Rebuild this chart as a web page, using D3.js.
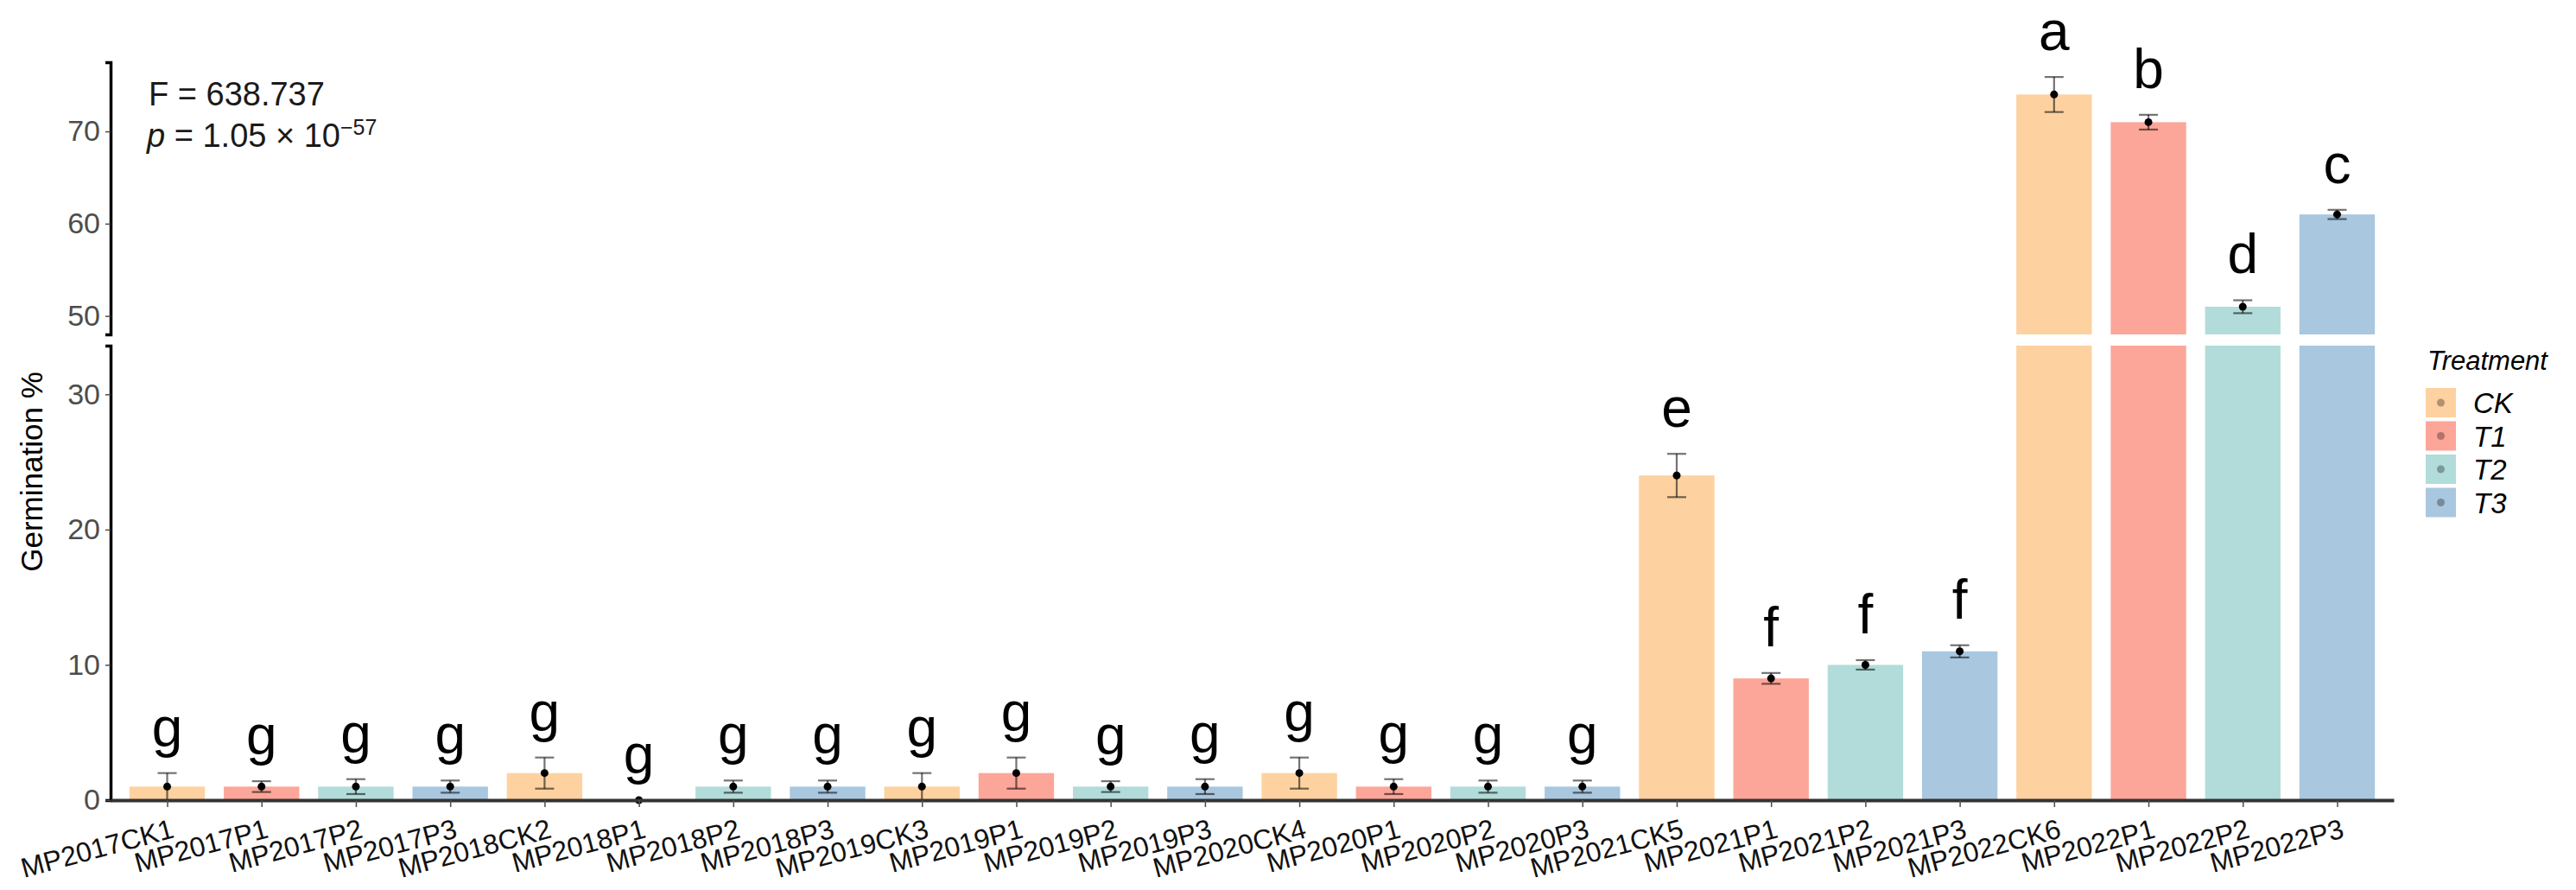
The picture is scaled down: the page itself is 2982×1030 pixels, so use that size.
<!DOCTYPE html>
<html>
<head>
<meta charset="utf-8">
<script src="https://d3js.org/d3.v7.min.js"></script>
<style>
  body { margin: 0; background: #fff; }
  svg { display: block; font-family: "Liberation Sans", Arial, sans-serif; }
</style>
</head>
<body>
<svg id="chart"></svg>
<script>
// data
const categories = [
  "MP2017CK1", "MP2017P1", "MP2017P2", "MP2017P3",
  "MP2018CK2", "MP2018P1", "MP2018P2", "MP2018P3",
  "MP2019CK3", "MP2019P1", "MP2019P2", "MP2019P3",
  "MP2020CK4", "MP2020P1", "MP2020P2", "MP2020P3",
  "MP2021CK5", "MP2021P1", "MP2021P2", "MP2021P3",
  "MP2022CK6", "MP2022P1", "MP2022P2", "MP2022P3"
];
const treatment = [
  "CK", "T1", "T2", "T3", "CK", "T1", "T2", "T3",
  "CK", "T1", "T2", "T3", "CK", "T1", "T2", "T3",
  "CK", "T1", "T2", "T3", "CK", "T1", "T2", "T3"
];
const means = [1, 1, 1, 1, 2, 0, 1, 1, 1, 2, 1, 1, 2, 1, 1, 1, 24, 9, 10, 11, 74, 71, 51, 61];
const sds = [1, 0.4, 0.55, 0.45, 1.15, 0, 0.45, 0.45, 1, 1.15, 0.4, 0.55, 1.15, 0.55, 0.45, 0.45,
             1.6, 0.4, 0.35, 0.45, 1.9, 0.8, 0.7, 0.5];
const letters = ["g", "g", "g", "g", "g", "g", "g", "g", "g", "g", "g", "g",
                 "g", "g", "g", "g", "e", "f", "f", "f", "a", "b", "d", "c"];
const groups = ["CK", "T1", "T2", "T3"];
const groupColors = ["#FDD2A0", "#FCA699", "#B2DCD9", "#A9C7DF"];
const lowTicks = [0, 10, 20, 30];
const highTicks = [50, 60, 70];
const lowDomain = [0, 33.6];
const highDomain = [48, 77.5];

document.addEventListener("DOMContentLoaded", function() {
  const width = 2982;
  const height = 1030;
  const left = 128, right = 2771;
  const baseY = 926;

  const data = categories.map((c, i) => ({
    name: c, group: treatment[i], mean: means[i], sd: sds[i], letter: letters[i]
  }));

  const svg = d3.select("#chart")
                .attr("width", width)
                .attr("height", height);

  // scales
  const x = d3.scalePoint()
              .domain(categories)
              .range([left, right])
              .padding(0.6);
  const barW = x.step() * 0.8;

  const yLow = d3.scaleLinear().domain(lowDomain).range([baseY, 400]);
  const yHigh = d3.scaleLinear().domain(highDomain).range([387, 72]);
  const yPix = v => v > 40 ? yHigh(v) : yLow(Math.max(0, v));

  const color = d3.scaleOrdinal().domain(groups).range(groupColors);

  // bars (split over the axis break)
  const bars = svg.append("g");
  data.forEach(d => {
    if (d.mean <= lowDomain[1]) {
      bars.append("rect")
          .attr("x", x(d.name) - barW / 2)
          .attr("y", yLow(d.mean))
          .attr("width", barW)
          .attr("height", yLow(0) - yLow(d.mean))
          .attr("fill", color(d.group));
    } else {
      bars.append("rect")
          .attr("x", x(d.name) - barW / 2)
          .attr("y", yLow(lowDomain[1]))
          .attr("width", barW)
          .attr("height", yLow(0) - yLow(lowDomain[1]))
          .attr("fill", color(d.group));
      bars.append("rect")
          .attr("x", x(d.name) - barW / 2)
          .attr("y", yHigh(d.mean))
          .attr("width", barW)
          .attr("height", yHigh(highDomain[0]) - yHigh(d.mean))
          .attr("fill", color(d.group));
    }
  });

  // error bars
  const err = svg.append("g")
                 .attr("stroke", "rgba(0,0,0,0.55)")
                 .attr("stroke-width", 2.2);
  data.filter(d => d.sd > 0).forEach(d => {
    const cx = x(d.name);
    const top = yPix(d.mean + d.sd);
    const bot = yPix(d.mean - d.sd);
    err.append("line").attr("x1", cx).attr("x2", cx).attr("y1", top).attr("y2", bot);
    err.append("line").attr("x1", cx - 11).attr("x2", cx + 11).attr("y1", top).attr("y2", top);
    if (d.mean - d.sd > 0)
      err.append("line").attr("x1", cx - 11).attr("x2", cx + 11).attr("y1", bot).attr("y2", bot);
  });

  // mean points
  svg.append("g")
     .selectAll("circle")
     .data(data)
     .enter()
     .append("circle")
       .attr("cx", d => x(d.name))
       .attr("cy", d => yPix(d.mean))
       .attr("r", 4.5)
       .attr("fill", "#000");

  // significance letters
  svg.append("g")
     .selectAll("text")
     .data(data)
     .enter()
     .append("text")
       .attr("x", d => x(d.name))
       .attr("y", d => yPix(d.mean + d.sd) - 31)
       .attr("text-anchor", "middle")
       .style("font-size", "64px")
       .attr("fill", "#000")
       .text(d => d.letter);

  // y axes
  const axLow = svg.append("g")
     .attr("transform", `translate(${left},0)`)
     .call(d3.axisLeft(yLow).tickValues(lowTicks).tickSize(6).tickPadding(6));
  const axHigh = svg.append("g")
     .attr("transform", `translate(${left},0)`)
     .call(d3.axisLeft(yHigh).tickValues(highTicks).tickSize(6).tickPadding(6));
  [axLow, axHigh].forEach(ax => {
    ax.select(".domain").attr("stroke", "#000").attr("stroke-width", 3.5);
    ax.selectAll(".tick line").attr("stroke", "#4d4d4d").attr("stroke-width", 1.5);
    ax.selectAll(".tick text")
      .attr("fill", "#4d4d4d")
      .style("font-size", "34px")
      .style("font-family", "Liberation Sans, Arial, sans-serif");
  });

  // x axis
  const axX = svg.append("g")
     .attr("transform", `translate(0,${baseY})`)
     .call(d3.axisBottom(x).tickSize(8).tickSizeOuter(0));
  axX.select(".domain").attr("stroke", "#333").attr("stroke-width", 4);
  axX.selectAll(".tick line").attr("stroke", "#4d4d4d").attr("stroke-width", 1.5);
  axX.selectAll(".tick text")
     .attr("y", 0)
     .attr("dy", 0)
     .attr("fill", "#111")
     .attr("text-anchor", "end")
     .attr("transform", "translate(9,43) rotate(-15)")
     .style("font-size", "32px")
     .style("font-family", "Liberation Sans, Arial, sans-serif");

  // y title
  svg.append("text")
     .attr("transform", "translate(49,546) rotate(-90)")
     .attr("text-anchor", "middle")
     .style("font-size", "35px")
     .attr("fill", "#000")
     .text("Germination %");

  // statistics annotation
  svg.append("text")
     .attr("x", 172)
     .attr("y", 122)
     .style("font-size", "38px")
     .attr("fill", "#1a1a1a")
     .text("F = 638.737");
  const pText = svg.append("text")
     .attr("x", 170)
     .attr("y", 170)
     .style("font-size", "38px")
     .attr("fill", "#1a1a1a");
  pText.append("tspan").style("font-style", "italic").text("p");
  pText.append("tspan").text(" = 1.05 \u00D7 10");
  pText.append("tspan")
       .attr("dy", -14)
       .style("font-size", "25px")
       .text("\u221257");

  // legend
  const legend = svg.append("g");
  legend.append("text")
        .attr("x", 2810)
        .attr("y", 428)
        .style("font-size", "31px")
        .style("font-style", "italic")
        .attr("fill", "#000")
        .text("Treatment");
  groups.forEach((g, i) => {
    const cy = 466 + i * 38.5;
    legend.append("rect")
          .attr("x", 2808)
          .attr("y", cy - 17)
          .attr("width", 35)
          .attr("height", 34)
          .attr("fill", color(g));
    legend.append("circle")
          .attr("cx", 2825.5)
          .attr("cy", cy)
          .attr("r", 4.5)
          .attr("fill", "rgba(0,0,0,0.3)");
    legend.append("text")
          .attr("x", 2863)
          .attr("y", cy + 12)
          .style("font-size", "33px")
          .style("font-style", "italic")
          .attr("fill", "#000")
          .text(g);
  });
});
</script>
</body>
</html>
